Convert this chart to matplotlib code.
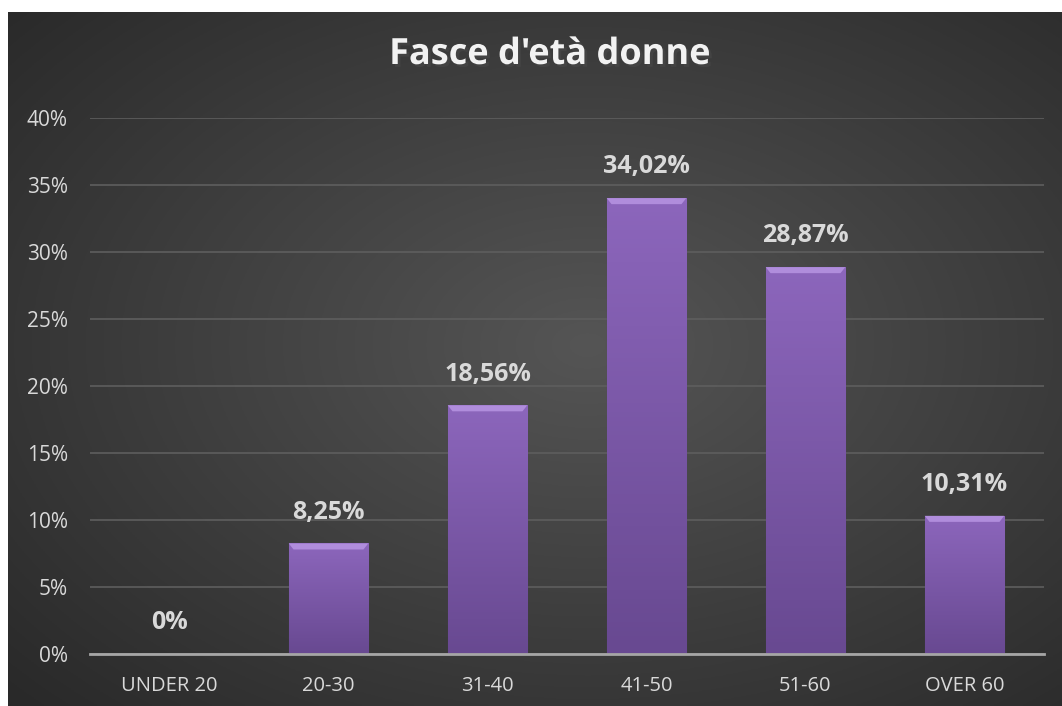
import matplotlib.pyplot as plt
import matplotlib.patheffects as pe
import numpy as np

categorie = ["UNDER 20", "20-30", "31-40", "41-50", "51-60", "OVER 60"]
valori = [0.0, 8.25, 18.56, 34.02, 28.87, 10.31]
etichette = ["0%", "8,25%", "18,56%", "34,02%", "28,87%", "10,31%"]
yticks = [0, 5, 10, 15, 20, 25, 30, 35, 40]

plt.rcParams['font.family'] = ['Open Sans', 'DejaVu Sans']

W, H = 1062, 706
fig = plt.figure(figsize=(W / 100, H / 100), dpi=100, facecolor='white')

# sfondo scuro con gradiente radiale
bg = fig.add_axes([8 / W, 0, 1 - 8 / W, 1 - 12 / H])
yy, xx = np.mgrid[0:1:300j, 0:1:450j]
r = np.sqrt(((xx - 0.55) / 0.75) ** 2 + ((yy - 0.52) / 0.75) ** 2)
r = np.clip(r, 0, 1)
c0, c1 = np.array([0x55, 0x55, 0x55]) / 255, np.array([0x29, 0x29, 0x29]) / 255
img = c0[None, None, :] * (1 - r[..., None]) + c1[None, None, :] * r[..., None]
bg.imshow(img, extent=[0, 1, 0, 1], aspect='auto', origin='lower')
bg.axis('off')

ax = fig.add_axes([90 / W, (H - 654) / H, (1044 - 90) / W, (654 - 118) / H])
ax.set_facecolor('none')
x = np.arange(len(categorie))
bars = ax.bar(x, valori, width=0.5, color='#7b58a8', edgecolor='#5a3d80', linewidth=0.8, zorder=3)

# gradiente sulle barre
grad = np.linspace(0, 1, 100)[:, None]
top_c = np.array([0x8c, 0x66, 0xbc]) / 255
bot_c = np.array([0x68, 0x49, 0x91]) / 255
gimg = bot_c[None, None, :] * (1 - grad[..., None]) + top_c[None, None, :] * grad[..., None]
for b in bars:
    if b.get_height() <= 0:
        continue
    bx, bw, bh = b.get_x(), b.get_width(), b.get_height()
    im = ax.imshow(gimg, extent=[bx, bx + bw, 0, bh], aspect='auto', origin='lower', zorder=3.5)
    im.set_clip_path(b)
    # bordo superiore smussato
    ax.fill([bx, bx + bw, bx + bw * 0.94, bx + bw * 0.06], [bh, bh, bh - 0.45, bh - 0.45],
            color='#b08ddc', zorder=4, lw=0)

for xi, v, t in zip(x, valori, etichette):
    ax.text(xi, v + 1.4, t, ha='center', va='bottom', fontsize=18, fontweight='bold',
            color='#d9d9d9', zorder=5)

ax.set_xlim(-0.5, len(categorie) - 0.5)
ax.set_ylim(0, 40)
ax.set_yticks(yticks)
ax.set_yticklabels([f"{t}%" for t in yticks])
ax.set_xticks(x)
ax.set_xticklabels(categorie)
ax.tick_params(axis='both', colors='#d9d9d9', length=0)
ax.tick_params(axis='y', pad=16, labelsize=15)
ax.tick_params(axis='x', pad=16, labelsize=14.5)
ax.grid(axis='y', color='#5e5e5e', linewidth=1.2, zorder=0)
for s in ['top', 'right', 'left']:
    ax.spines[s].set_visible(False)
ax.spines['bottom'].set_color('#a6a6a6')
ax.spines['bottom'].set_linewidth(2)
ax.spines['bottom'].set_zorder(6)

fig.text(550 / W, 1 - 55 / H, "Fasce d'età donne", ha='center', va='center', fontsize=26,
         fontweight='bold', color='#f2f2f2',
         path_effects=[pe.SimplePatchShadow(offset=(2, -2), alpha=0.6), pe.Normal()])

fig.savefig('out.png', dpi=100, facecolor='white')
